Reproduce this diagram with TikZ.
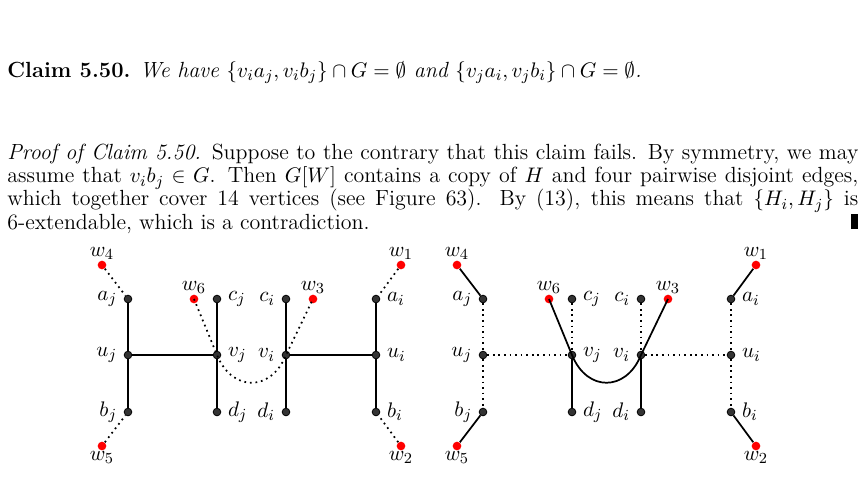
\documentclass[tikz,border=0pt]{standalone}
\usepackage{amsmath,amssymb}
\usepackage{tikz}
\usetikzlibrary{positioning}

\tikzset{
  vtx/.style={circle, fill=black!80, draw=black, inner sep=0pt, minimum size=4pt},
  wtx/.style={circle, fill=red, inner sep=0pt, minimum size=4.5pt},
  solid edge/.style={line width=0.9pt},
  dot edge/.style={line width=0.9pt, dotted},
  every label/.style={font=\fontsize{11}{13}\selectfont},
}

\begin{document}
\begin{tikzpicture}[x=0.52pt, y=-0.52pt]
\useasboundingbox (0,0) rectangle (863,476);

% text
\node[anchor=west, inner sep=0pt, font=\fontsize{11.4}{12}\selectfont] (claim) at (7,73)
  {\textbf{Claim 5.50.} \itshape We have $\{v_ia_j,v_ib_j\}\cap G=\emptyset$ and $\{v_ja_i,v_jb_i\}\cap G=\emptyset$.};
\node[anchor=north west, inner sep=0pt, text width=442.5pt, align=justify,
      font=\fontsize{11.4}{12}\selectfont] (proof) at (7,144)
  {\textit{Proof of Claim 5.50.} Suppose to the contrary that this claim fails. By symmetry, we may\linebreak
  assume that $v_ib_j\in G$. Then $G[W]$ contains a copy of $H$ and four pairwise disjoint edges,\linebreak
  which together cover 14 vertices (see Figure 63). By (13), this means that $\{H_i,H_j\}$ is\linebreak
  6-extendable, which is a contradiction.\hfill\rule{4pt}{8pt}};

% both graphs
\foreach \p/\dx in {L/0, R/355} {
  \begin{scope}[xshift=\dx*0.52pt]
    \node[vtx, label=left:$a_j$]  (\p aj) at (128,299) {};
    \node[vtx, label=left:$u_j$]  (\p uj) at (128,355) {};
    \node[vtx, label=left:$b_j$]  (\p bj) at (128,412) {};
    \node[vtx, label=right:$c_j$] (\p cj) at (217,299) {};
    \node[vtx, label=right:$v_j$] (\p vj) at (217,355) {};
    \node[vtx, label=right:$d_j$] (\p dj) at (217,412) {};
    \node[vtx, label=left:$c_i$]  (\p ci) at (286,299) {};
    \node[vtx, label=left:$v_i$]  (\p vi) at (286,355) {};
    \node[vtx, label=left:$d_i$]  (\p di) at (286,412) {};
    \node[vtx, label=right:$a_i$] (\p ai) at (376,299) {};
    \node[vtx, label=right:$u_i$] (\p ui) at (376,355) {};
    \node[vtx, label=right:$b_i$] (\p bi) at (376,412) {};
    \node[wtx, label={[yshift=-3pt]above:$w_4$}] (\p w4) at (102,265) {};
    \node[wtx, label={[yshift=3pt]below:$w_5$}]  (\p w5) at (102,446) {};
    \node[wtx, label={[yshift=-3pt]above:$w_6$}] (\p w6) at (194,299) {};
    \node[wtx, label={[yshift=-3pt]above:$w_3$}] (\p w3) at (313,299) {};
    \node[wtx, label={[yshift=-3pt]above:$w_1$}] (\p w1) at (401,265) {};
    \node[wtx, label={[yshift=3pt]below:$w_2$}]  (\p w2) at (401,446) {};
  \end{scope}
}

% left: H solid, matching dotted
\draw[solid edge] (Laj) -- (Luj) -- (Lbj);
\draw[solid edge] (Lcj) -- (Lvj) -- (Ldj);
\draw[solid edge] (Lci) -- (Lvi) -- (Ldi);
\draw[solid edge] (Lai) -- (Lui) -- (Lbi);
\draw[solid edge] (Luj) -- (Lvj);
\draw[solid edge] (Lvi) -- (Lui);
\draw[dot edge] (Lw4) -- (Laj);
\draw[dot edge] (Lw5) -- (Lbj);
\draw[dot edge] (Lw1) -- (Lai);
\draw[dot edge] (Lw2) -- (Lbi);
\draw[dot edge] (Lw6.center) -- (Lvj.center) .. controls +(15,37) and +(-15,37) .. (Lvi.center) -- (Lw3.center);

% right: swapped
\draw[dot edge] (Raj) -- (Ruj) -- (Rbj);
\draw[dot edge] (Rcj) -- (Rvj);
\draw[dot edge] (Rci) -- (Rvi);
\draw[dot edge] (Rai) -- (Rui) -- (Rbi);
\draw[dot edge] (Ruj) -- (Rvj);
\draw[dot edge] (Rvi) -- (Rui);
\draw[solid edge] (Rvj) -- (Rdj);
\draw[solid edge] (Rvi) -- (Rdi);
\draw[solid edge] (Rw4) -- (Raj);
\draw[solid edge] (Rw5) -- (Rbj);
\draw[solid edge] (Rw1) -- (Rai);
\draw[solid edge] (Rw2) -- (Rbi);
\draw[solid edge] (Rw6.center) -- (Rvj.center) .. controls +(15,37) and +(-15,37) .. (Rvi.center) -- (Rw3.center);
\end{tikzpicture}
\end{document}
